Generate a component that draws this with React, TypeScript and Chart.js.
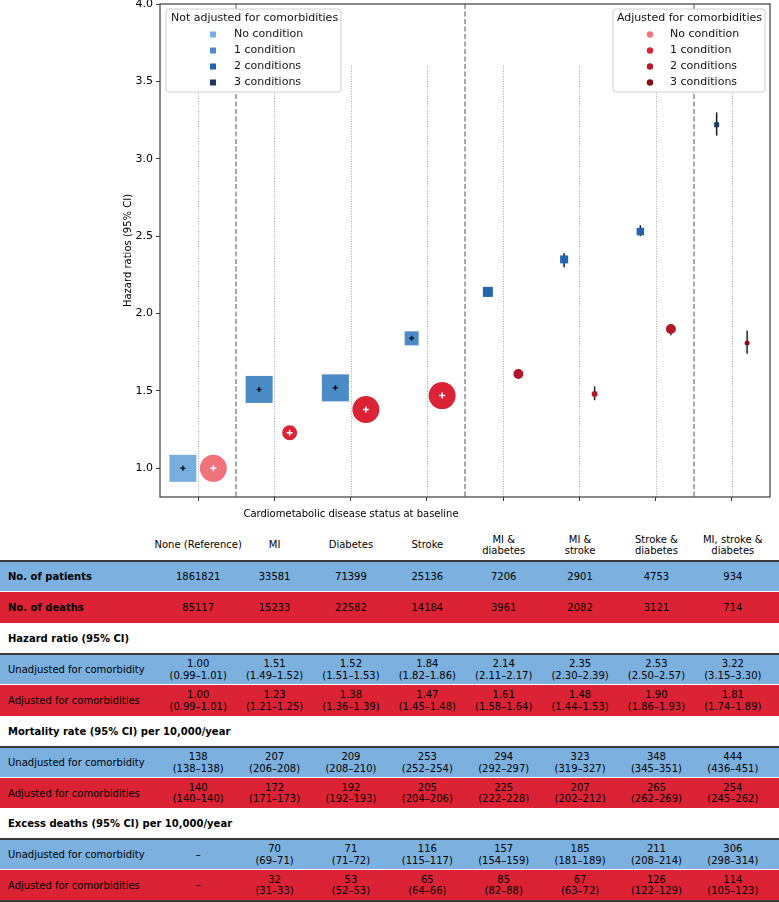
import React, { useEffect, useRef } from 'react';
import { Chart, registerables } from 'chart.js';

Chart.register(...registerables);

// ---------------- DATA ----------------
const categories = ['None (Reference)', 'MI', 'Diabetes', 'Stroke', 'MI &\ndiabetes', 'MI &\nstroke', 'Stroke &\ndiabetes', 'MI, stroke &\ndiabetes'];
const conditionCount = [0, 1, 1, 1, 2, 2, 2, 3];

const hrUnadj = [1.0, 1.51, 1.52, 1.84, 2.14, 2.35, 2.53, 3.22];
const hrUnadjLo = [0.99, 1.49, 1.51, 1.82, 2.11, 2.3, 2.5, 3.15];
const hrUnadjHi = [1.01, 1.52, 1.53, 1.86, 2.17, 2.39, 2.57, 3.3];

const hrAdj = [1.0, 1.23, 1.38, 1.47, 1.61, 1.48, 1.9, 1.81];
const hrAdjLo = [0.99, 1.21, 1.36, 1.45, 1.58, 1.44, 1.86, 1.74];
const hrAdjHi = [1.01, 1.25, 1.39, 1.48, 1.64, 1.53, 1.93, 1.89];

const yTicks = [1.0, 1.5, 2.0, 2.5, 3.0, 3.5, 4.0];
const legendLabels = ['No condition', '1 condition', '2 conditions', '3 conditions'];

const patients = [1861821, 33581, 71399, 25136, 7206, 2901, 4753, 934];
const deaths = [85117, 15233, 22582, 14184, 3961, 2082, 3121, 714];

const mortUnadj = [138, 207, 209, 253, 294, 323, 348, 444];
const mortUnadjLo = [138, 206, 208, 252, 292, 319, 345, 436];
const mortUnadjHi = [138, 208, 210, 254, 297, 327, 351, 451];

const mortAdj = [140, 172, 192, 205, 225, 207, 265, 254];
const mortAdjLo = [140, 171, 192, 204, 222, 202, 262, 245];
const mortAdjHi = [140, 173, 193, 206, 228, 212, 269, 262];

const excessUnadj = [null, 70, 71, 116, 157, 185, 211, 306];
const excessUnadjLo = [null, 69, 71, 115, 154, 181, 208, 298];
const excessUnadjHi = [null, 71, 72, 117, 159, 189, 214, 314];

const excessAdj = [null, 32, 53, 65, 85, 67, 126, 114];
const excessAdjLo = [null, 31, 52, 64, 82, 63, 122, 105];
const excessAdjHi = [null, 33, 53, 66, 88, 72, 129, 123];

// ---------------- STYLE ----------------
const BLUE_SHADES = ['#78aede', '#4a8bc8', '#2166ac', '#1b3a5c'];
const RED_SHADES = ['#f2727c', '#dc2336', '#b2182b', '#8c0a14'];
const squareSide = [27, 27, 27, 14, 10, 8, 7.5, 5];
const circleDiam = [27, 15, 27, 27, 10, 6, 10, 5];
const OFFSET = 0.2;
const GROUP_LINE_TOP = 3.6;
const DIVIDERS = [0.5, 3.5, 6.5];
const ROW_BLUE = '#7cb0de';
const ROW_RED = '#dc2335';
const FONT = "'DejaVu Sans', sans-serif";

const W = 779;
const CH = 525;

const fmt2 = (v: number) => v.toFixed(2);
const dash = '\u2013';

const markerSets = () => [
  { v: hrUnadj, lo: hrUnadjLo, hi: hrUnadjHi, off: -OFFSET, size: squareSide, plus: '#111', plusHalf: 2.5, bar: '#111' },
  { v: hrAdj, lo: hrAdjLo, hi: hrAdjHi, off: OFFSET, size: circleDiam, plus: '#fff', plusHalf: 3, bar: '#222' },
];

const chartPlugin = {
  id: 'custom',
  beforeDatasetsDraw(chart: any) {
    const { ctx, chartArea, scales } = chart;
    const x = scales.x;
    const y = scales.y;
    ctx.save();
    // dotted group lines
    ctx.strokeStyle = '#a8a8a8';
    ctx.lineWidth = 1;
    ctx.setLineDash([1, 1.5]);
    const yTop = y.getPixelForValue(GROUP_LINE_TOP);
    categories.forEach((_, i) => {
      const px = Math.round(x.getPixelForValue(i)) + 0.5;
      ctx.beginPath();
      ctx.moveTo(px, yTop);
      ctx.lineTo(px, chartArea.bottom);
      ctx.stroke();
    });
    // dashed dividers
    ctx.strokeStyle = '#8c8c8c';
    ctx.lineWidth = 1.5;
    ctx.setLineDash([5, 2.5]);
    DIVIDERS.forEach((d) => {
      const px = Math.round(x.getPixelForValue(d));
      ctx.beginPath();
      ctx.moveTo(px, chartArea.top);
      ctx.lineTo(px, chartArea.bottom);
      ctx.stroke();
    });
    ctx.setLineDash([]);
    // error bars (beneath markers)
    ctx.lineWidth = 1.5;
    markerSets().forEach((s) => {
      s.v.forEach((_val, i) => {
        const px = x.getPixelForValue(i + s.off);
        ctx.strokeStyle = s.bar;
        ctx.beginPath();
        ctx.moveTo(px, y.getPixelForValue(s.lo[i]));
        ctx.lineTo(px, y.getPixelForValue(s.hi[i]));
        ctx.stroke();
      });
    });
    ctx.restore();
  },
  afterDatasetsDraw(chart: any) {
    const { ctx, scales } = chart;
    const x = scales.x;
    const y = scales.y;
    ctx.save();
    ctx.lineWidth = 1.5;
    // "+" centre marks on large markers
    markerSets().forEach((s) => {
      s.v.forEach((val, i) => {
        if (s.size[i] <= 12) return;
        const px = x.getPixelForValue(i + s.off);
        const yc = y.getPixelForValue(val);
        const h = s.plusHalf;
        ctx.strokeStyle = s.plus;
        ctx.beginPath();
        ctx.moveTo(px, yc - h);
        ctx.lineTo(px, yc + h);
        ctx.moveTo(px - h, yc);
        ctx.lineTo(px + h, yc);
        ctx.stroke();
      });
    });
    ctx.restore();
  },
  afterDraw(chart: any) {
    const { ctx, chartArea } = chart;
    ctx.save();
    // axes box
    ctx.strokeStyle = '#3a3a3a';
    ctx.lineWidth = 1.2;
    ctx.strokeRect(chartArea.left, chartArea.top, chartArea.right - chartArea.left, chartArea.bottom - chartArea.top);

    // axis titles
    ctx.fillStyle = '#000';
    ctx.font = `10px ${FONT}`;
    ctx.textAlign = 'center';
    ctx.textBaseline = 'middle';
    ctx.fillText('Cardiometabolic disease status at baseline', 351, 514);
    ctx.save();
    ctx.translate(128, (chartArea.top + chartArea.bottom) / 2);
    ctx.rotate(-Math.PI / 2);
    ctx.fillText('Hazard ratios (95% CI)', 0, 0);
    ctx.restore();

    const drawLegend = (bx: number, by: number, bw: number, bh: number, title: string, colors: string[], shape: string, mx: number, tx: number, titleX: number) => {
      ctx.save();
      ctx.fillStyle = 'rgba(255,255,255,0.95)';
      ctx.strokeStyle = '#cfcfcf';
      ctx.lineWidth = 1;
      ctx.beginPath();
      const r = 3;
      ctx.moveTo(bx + r, by);
      ctx.lineTo(bx + bw - r, by);
      ctx.arcTo(bx + bw, by, bx + bw, by + r, r);
      ctx.lineTo(bx + bw, by + bh - r);
      ctx.arcTo(bx + bw, by + bh, bx + bw - r, by + bh, r);
      ctx.lineTo(bx + r, by + bh);
      ctx.arcTo(bx, by + bh, bx, by + bh - r, r);
      ctx.lineTo(bx, by + r);
      ctx.arcTo(bx, by, bx + r, by, r);
      ctx.closePath();
      ctx.fill();
      ctx.stroke();
      ctx.fillStyle = '#111';
      ctx.font = `11px ${FONT}`;
      ctx.textAlign = 'left';
      ctx.textBaseline = 'middle';
      ctx.fillText(title, titleX, by + 9.5);
      legendLabels.forEach((lab, i) => {
        const yy = by + 25.5 + i * 16;
        ctx.fillStyle = colors[i];
        if (shape === 'rect') {
          ctx.fillRect(mx - 3, yy - 3, 6, 6);
        } else {
          ctx.beginPath();
          ctx.arc(mx, yy, 3.2, 0, Math.PI * 2);
          ctx.fill();
        }
        ctx.fillStyle = '#111';
        ctx.fillText(lab, tx, yy);
      });
      ctx.restore();
    };
    drawLegend(166, 9, 175, 83, 'Not adjusted for comorbidities', BLUE_SHADES, 'rect', 213, 234, 171);
    drawLegend(613, 9, 152, 83, 'Adjusted for comorbidities', RED_SHADES, 'circle', 650, 670, 617);
    ctx.restore();
  },
};

function ChartCanvas() {
  const ref = useRef<HTMLCanvasElement | null>(null);
  useEffect(() => {
    if (!ref.current) return;
    Chart.defaults.font.family = FONT;
    const chart = new Chart(ref.current, {
      type: 'scatter',
      data: {
        datasets: [
          {
            label: 'Not adjusted for comorbidities',
            data: hrUnadj.map((v, i) => ({ x: i - OFFSET, y: v })),
            pointStyle: 'rect',
            pointRadius: squareSide.map((s) => s / Math.SQRT2),
            pointBackgroundColor: conditionCount.map((c) => BLUE_SHADES[c]),
            pointBorderWidth: 0,
            showLine: false,
          } as any,
          {
            label: 'Adjusted for comorbidities',
            data: hrAdj.map((v, i) => ({ x: i + OFFSET, y: v })),
            pointStyle: 'circle',
            pointRadius: circleDiam.map((d) => d / 2),
            pointBackgroundColor: conditionCount.map((c) => RED_SHADES[c]),
            pointBorderWidth: 0,
            showLine: false,
          } as any,
        ],
      },
      options: {
        responsive: false,
        animation: false,
        devicePixelRatio: 1,
        layout: { autoPadding: false, padding: { top: 4, right: 9, left: 0, bottom: 0 } },
        plugins: { legend: { display: false }, tooltip: { enabled: false } },
        scales: {
          x: {
            type: 'linear',
            min: -0.5,
            max: 7.5,
            afterBuildTicks: (s: any) => {
              s.ticks = categories.map((_, i) => ({ value: i }));
            },
            afterFit: (s: any) => {
              s.height = CH - 497;
              s.paddingLeft = 0;
              s.paddingRight = 0;
            },
            ticks: { display: false },
            grid: { drawOnChartArea: false, drawTicks: true, tickLength: 4, color: '#3a3a3a' },
            border: { display: false },
          },
          y: {
            type: 'linear',
            min: 0.815,
            max: 4.0,
            afterBuildTicks: (s: any) => {
              s.ticks = yTicks.map((v) => ({ value: v }));
            },
            afterFit: (s: any) => {
              s.width = 160;
              s.paddingTop = 0;
              s.paddingBottom = 0;
            },
            ticks: {
              callback: (v: any) => Number(v).toFixed(1),
              font: { size: 11, family: FONT },
              color: '#000',
              padding: 3,
            },
            grid: { drawOnChartArea: false, drawTicks: true, tickLength: 4, color: '#3a3a3a' },
            border: { display: false },
          },
        },
      } as any,
      plugins: [chartPlugin],
    });
    return () => chart.destroy();
  }, []);
  return <canvas ref={ref} width={W} height={CH} style={{ position: 'absolute', left: 0, top: 0, width: W, height: CH }} />;
}

const LABEL_W = 160;
const COL_W = (W - LABEL_W - 8) / 8;

function Cell({ lines, i, bold }: { lines: string[]; i: number; bold?: boolean }) {
  return (
    <div
      style={{
        position: 'absolute',
        left: LABEL_W + COL_W * i,
        width: COL_W,
        top: 0,
        bottom: 0,
        display: 'flex',
        flexDirection: 'column',
        justifyContent: 'center',
        alignItems: 'center',
        lineHeight: '11.5px',
        fontWeight: bold ? 'bold' : 'normal',
      }}
    >
      {lines.map((l, k) => (
        <div key={k} style={{ whiteSpace: 'nowrap' }}>{l}</div>
      ))}
    </div>
  );
}

function Row({ top, h, bg, label, bold, cells }: { top: number; h: number; bg: string; label?: string; bold?: boolean; cells?: string[][] }) {
  return (
    <div style={{ position: 'absolute', left: 0, width: W, top, height: h, background: bg }}>
      {label && (
        <div style={{ position: 'absolute', left: 8, top: 0, bottom: 0, display: 'flex', alignItems: 'center', fontWeight: bold ? 'bold' : 'normal', whiteSpace: 'nowrap' }}>
          {label}
        </div>
      )}
      {cells && cells.map((c, i) => <Cell key={i} lines={c} i={i} />)}
    </div>
  );
}

function Line({ top }: { top: number }) {
  return <div style={{ position: 'absolute', left: 0, width: W, top, height: 2, background: '#3a3a3a' }} />;
}

const ciCells = (v: number[], lo: number[], hi: number[], f: (n: number) => string) =>
  v.map((val, i) => [f(val), `(${f(lo[i])}${dash}${f(hi[i])})`]);

const excessCells = (v: (number | null)[], lo: (number | null)[], hi: (number | null)[]) =>
  v.map((val, i) => (val === null ? [dash] : [String(val), `(${lo[i]}${dash}${hi[i]})`]));

export default function App() {
  const intf = (n: number) => String(n);
  return (
    <div style={{ position: 'absolute', left: 0, top: 0, width: W, height: 902, background: '#fff', fontFamily: FONT, fontSize: 10, color: '#000', overflow: 'hidden' }}>
      <ChartCanvas />
      <Row top={530} h={30} bg="transparent" cells={categories.map((c) => c.split('\n'))} />
      <Line top={560} />
      <Row top={562} h={29} bg={ROW_BLUE} label="No. of patients" bold cells={patients.map((p) => [String(p)])} />
      <Row top={592} h={31} bg={ROW_RED} label="No. of deaths" bold cells={deaths.map((p) => [String(p)])} />
      <Row top={623} h={30} bg="#fff" label="Hazard ratio (95% CI)" bold />
      <Line top={653} />
      <Row top={655} h={29} bg={ROW_BLUE} label="Unadjusted for comorbidity" cells={ciCells(hrUnadj, hrUnadjLo, hrUnadjHi, fmt2)} />
      <Row top={685} h={31} bg={ROW_RED} label="Adjusted for comorbidities" cells={ciCells(hrAdj, hrAdjLo, hrAdjHi, fmt2)} />
      <Row top={716} h={30} bg="#fff" label="Mortality rate (95% CI) per 10,000/year" bold />
      <Line top={746} />
      <Row top={748} h={29} bg={ROW_BLUE} label="Unadjusted for comorbidity" cells={ciCells(mortUnadj, mortUnadjLo, mortUnadjHi, intf)} />
      <Row top={778} h={30} bg={ROW_RED} label="Adjusted for comorbidities" cells={ciCells(mortAdj, mortAdjLo, mortAdjHi, intf)} />
      <Row top={808} h={30} bg="#fff" label="Excess deaths (95% CI) per 10,000/year" bold />
      <Line top={838} />
      <Row top={840} h={29} bg={ROW_BLUE} label="Unadjusted for comorbidity" cells={excessCells(excessUnadj, excessUnadjLo, excessUnadjHi)} />
      <Row top={870} h={30} bg={ROW_RED} label="Adjusted for comorbidities" cells={excessCells(excessAdj, excessAdjLo, excessAdjHi)} />
      <Line top={900} />
    </div>
  );
}
